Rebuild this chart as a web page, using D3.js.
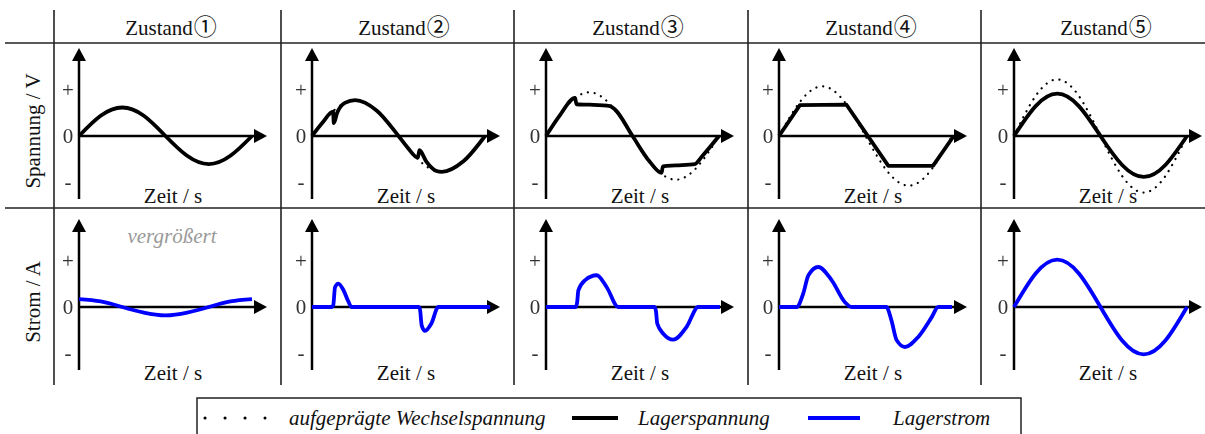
<!DOCTYPE html>
<html><head><meta charset="utf-8">
<script src="https://cdn.jsdelivr.net/npm/d3@7"></script>
<style>body{margin:0;background:#fff}svg{display:block}.ticklab{filter:grayscale(1)}</style>
</head><body>
<svg id="chart" width="1205" height="434"></svg>
<script>
// ---------------- data ----------------
const stateWord = "Zustand";
const stateMarks = ["①","②","③","④","⑤"];
const rowLabels = ["Spannung / V", "Strom / A"];
const tickValues = [1, 0, -1];
const tickLabels = ["+", "0", "-"];
const xLabel = "Zeit / s";
const noteLabel = "vergrößert";
const legendLabels = ["aufgeprägte Wechselspannung", "Lagerspannung", "Lagerstrom"];

// imposed AC voltage (dotted), [time in periods, value]
const imposedV1 = [[0,0],[0.125,0.44],[0.25,0.62],[0.375,0.44],[0.5,0],[0.625,-0.43],[0.75,-0.61],[0.875,-0.43],[1,0]];
const imposedV2 = [[0,0],[0.125,0.55],[0.25,0.78],[0.375,0.55],[0.5,0],[0.625,-0.55],[0.75,-0.78],[0.875,-0.55],[1,0]];
const imposedV3 = [[0,0],[0.125,0.67],[0.25,0.95],[0.375,0.67],[0.5,0],[0.625,-0.67],[0.75,-0.95],[0.875,-0.67],[1,0]];
const imposedV4 = [[0,0],[0.125,0.76],[0.25,1.08],[0.375,0.76],[0.5,0],[0.625,-0.76],[0.75,-1.08],[0.875,-0.76],[1,0]];
const imposedV5 = [[0,0],[0.125,0.87],[0.25,1.23],[0.375,0.87],[0.5,0],[0.625,-0.87],[0.75,-1.23],[0.875,-0.87],[1,0]];

// bearing voltage (solid black)
const bearingV1 = [[0,0],[0.125,0.44],[0.25,0.62],[0.375,0.44],[0.5,0],[0.625,-0.43],[0.75,-0.61],[0.875,-0.43],[1,0]];
const bearingV2 = [[0,0],[0.0625,0.30],[0.122,0.53],[0.126,0.28],[0.145,0.50],[0.19,0.72],[0.25,0.78],[0.375,0.55],[0.5,0],[0.55,-0.24],[0.612,-0.47],[0.621,-0.31],[0.66,-0.55],[0.72,-0.76],[0.75,-0.78],[0.875,-0.55],[1,0]];
const bearingV3 = [[0,0],[0.08,0.45],[0.168,0.83],[0.176,0.69],[0.25,0.68],[0.37,0.65],[0.4,0.57],[0.5,0],[0.6,-0.56],[0.668,-0.80],[0.676,-0.66],[0.75,-0.64],[0.86,-0.61],[0.9,-0.45],[1,0]];
const bearingV4 = [[0,0],[0.121,0.67],[0.39,0.68],[0.632,-0.65],[0.89,-0.65],[1.01,0]];
const bearingV5 = [[0,0],[0.125,0.65],[0.25,0.92],[0.375,0.65],[0.5,0],[0.625,-0.63],[0.75,-0.89],[0.875,-0.63],[1,0]];

// bearing current (solid blue)
const current1 = [[0,0.17],[0.125,0.12],[0.25,0],[0.375,-0.12],[0.5,-0.18],[0.625,-0.12],[0.75,0],[0.875,0.12],[1,0.17]];
const current2 = [[0,0],[0.115,0],[0.123,0.04],[0.133,0.43],[0.152,0.51],[0.18,0.38],[0.21,0.12],[0.229,0],[0.616,0],[0.624,-0.05],[0.634,-0.40],[0.653,-0.52],[0.69,-0.36],[0.73,0],[1.03,0]];
const current3 = [[0,0],[0.172,0],[0.18,0.1],[0.187,0.36],[0.225,0.58],[0.293,0.69],[0.351,0.43],[0.418,0],[0.628,0],[0.636,-0.1],[0.643,-0.36],[0.678,-0.58],[0.736,-0.71],[0.813,-0.43],[0.88,0],[1.005,0]];
const current4 = [[0,0],[0.102,0],[0.14,0.29],[0.17,0.69],[0.227,0.87],[0.305,0.58],[0.38,0.11],[0.42,0],[0.62,0],[0.65,-0.29],[0.68,-0.72],[0.728,-0.87],[0.805,-0.65],[0.883,-0.22],[0.92,0],[1.0,0]];
const current5 = [[0,0],[0.125,0.73],[0.25,1.03],[0.375,0.73],[0.5,0],[0.625,-0.73],[0.75,-1.03],[0.875,-0.73],[1,0]];

const imposedAll = [imposedV1, imposedV2, imposedV3, imposedV4, imposedV5];
const bearingAll = [bearingV1, bearingV2, bearingV3, bearingV4, bearingV5];
const currentAll = [current1, current2, current3, current4, current5];

// ---------------- layout ----------------
const W = 1205, H = 434;
const colLeft = [54, 281, 514, 748, 981];
const originX = [79, 312, 546, 779, 1014];
const originY = [136, 307];
const periodPx = 173, unitPx = 46;
const arrowX = 188, arrowUp = 88, arrowDown = 63;
const serif = "'Liberation Serif','Times New Roman',serif";
const fs = 21;
const ink = "#111";
const blue = "#0000ff";

const voltCurves = [d3.curveNatural, d3.curveMonotoneX, d3.curveMonotoneX, d3.curveLinear, d3.curveNatural];
const currCurves = [d3.curveNatural, d3.curveMonotoneX, d3.curveMonotoneX, d3.curveMonotoneX, d3.curveNatural];

const svg = d3.select("#chart");

// grid
const grid = svg.append("g").attr("stroke", "#222").attr("stroke-width", 1.6);
colLeft.forEach(x => grid.append("line").attr("x1", x).attr("x2", x).attr("y1", 10).attr("y2", 385));
[43, 208].forEach(y => grid.append("line").attr("x1", 5).attr("x2", W).attr("y1", y).attr("y2", y));

// headers
stateMarks.forEach((m, i) => {
  const t = svg.append("text").attr("x", originX[i] + 92).attr("y", 35)
    .attr("text-anchor", "middle").attr("font-family", serif).attr("font-size", fs).attr("fill", ink);
  t.append("tspan").text(stateWord);
  t.append("tspan").attr("font-family", "'Noto Sans CJK JP','DejaVu Sans'").attr("font-size", 23).attr("dx", 1).text(m);
});

// row labels
rowLabels.forEach((lab, r) => {
  const cy = r === 0 ? 131 : 302;
  svg.append("text").attr("transform", `translate(40,${cy}) rotate(-90)`)
    .attr("text-anchor", "middle").attr("font-family", serif).attr("font-size", fs).attr("fill", ink).text(lab);
});

function arrowHead(g, x, y, dir) {
  const L = 13, w = 7;
  let p;
  if (dir === "right") p = [[x, y], [x - L, y - w], [x - L, y + w]];
  else p = [[x, y], [x - w, y + L], [x + w, y + L]];
  g.append("path").attr("d", "M" + p.map(q => q.join(",")).join("L") + "Z").attr("fill", "#000");
}

for (let r = 0; r < 2; r++) {
  for (let c = 0; c < 5; c++) {
    const x = d3.scaleLinear().domain([0, 1]).range([originX[c], originX[c] + periodPx]);
    const y = d3.scaleLinear().domain([-1, 1]).range([originY[r] + unitPx, originY[r] - unitPx]);
    const g = svg.append("g");
    const xEnd = x.invert(originX[c] + arrowX);
    const yTop = y.invert(originY[r] - arrowUp), yBot = y.invert(originY[r] + arrowDown);

    // axes
    g.append("line").attr("x1", x(0)).attr("x2", x(xEnd) - 10).attr("y1", y(0)).attr("y2", y(0))
      .attr("stroke", "#000").attr("stroke-width", 2.5);
    g.append("line").attr("x1", x(0)).attr("x2", x(0)).attr("y1", y(yBot)).attr("y2", y(yTop) + 10)
      .attr("stroke", "#000").attr("stroke-width", 2.5);
    arrowHead(g, x(xEnd), y(0), "right");
    arrowHead(g, x(0), y(yTop), "up");

    // tick labels via d3 axis
    const ax = g.append("g").attr("class", "ticklab").attr("transform", `translate(${x(0) - 4},0)`)
      .call(d3.axisLeft(y).tickValues(tickValues).tickFormat((d, i) => tickLabels[i]).tickSize(0).tickPadding(0));
    ax.select(".domain").remove();
    ax.selectAll("text").attr("font-family", serif).attr("font-size", fs).attr("fill", "#333")
      .attr("text-anchor", "middle").attr("x", -7).attr("dy", "0.32em");

    // x label
    g.append("text").attr("x", x(0) + 94).attr("y", r === 0 ? 203 : 380).attr("text-anchor", "middle")
      .attr("font-family", serif).attr("font-size", fs).attr("fill", ink).text(xLabel);

    if (r === 0) {
      g.append("path").datum(imposedAll[c])
        .attr("d", d3.line().x(d => x(d[0])).y(d => y(d[1])).curve(d3.curveNatural))
        .attr("fill", "none").attr("stroke", "#000").attr("stroke-width", 2.2)
        .attr("stroke-linecap", "round").attr("stroke-dasharray", "0.1,6.8");
      g.append("path").datum(bearingAll[c])
        .attr("d", d3.line().x(d => x(d[0])).y(d => y(d[1])).curve(voltCurves[c]))
        .attr("fill", "none").attr("stroke", "#000").attr("stroke-width", 3.8).attr("stroke-linejoin", "round");
    } else {
      g.append("path").datum(currentAll[c])
        .attr("d", d3.line().x(d => x(d[0])).y(d => y(d[1])).curve(currCurves[c]))
        .attr("fill", "none").attr("stroke", blue).attr("stroke-width", 3.8).attr("stroke-linejoin", "round");
      if (c === 0) {
        g.append("text").attr("x", x(0) + 93).attr("y", 243).attr("text-anchor", "middle")
          .attr("font-family", serif).attr("font-style", "italic").attr("font-size", fs)
          .attr("fill", "#999").text(noteLabel);
      }
    }
  }
}

// legend
const lg = svg.append("g");
lg.append("rect").attr("x", 197).attr("y", 398).attr("width", 824).attr("height", 50)
  .attr("fill", "none").attr("stroke", "#222").attr("stroke-width", 1.5);
lg.append("line").attr("x1", 205).attr("x2", 265).attr("y1", 418).attr("y2", 418)
  .attr("stroke", "#000").attr("stroke-width", 3).attr("stroke-linecap", "round").attr("stroke-dasharray", "0.1,19.9");
lg.append("line").attr("x1", 572).attr("x2", 618).attr("y1", 418).attr("y2", 418)
  .attr("stroke", "#000").attr("stroke-width", 4);
lg.append("line").attr("x1", 808).attr("x2", 860).attr("y1", 418).attr("y2", 418)
  .attr("stroke", blue).attr("stroke-width", 4);
const legX = [289, 638, 893];
legendLabels.forEach((t, i) => {
  lg.append("text").attr("x", legX[i]).attr("y", 425).attr("font-family", serif)
    .attr("font-style", "italic").attr("font-size", fs).attr("fill", ink).text(t);
});
</script>
</body></html>
